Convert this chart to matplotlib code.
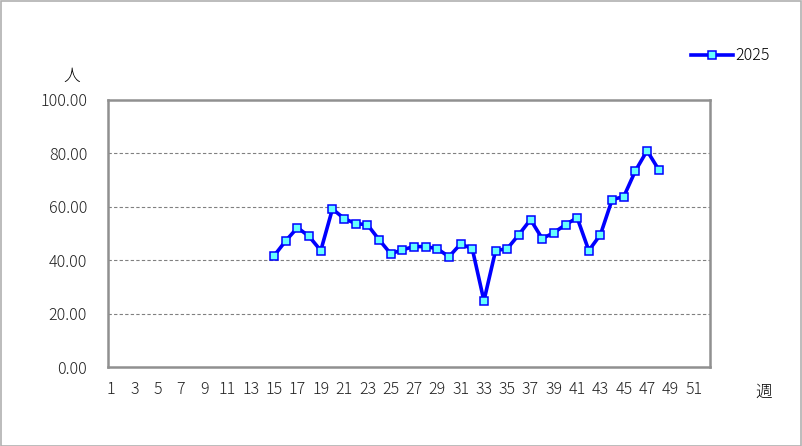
import numpy as np
import matplotlib
matplotlib.use("Agg")
import matplotlib.pyplot as plt
from matplotlib.patches import Rectangle

plt.rcParams['font.family'] = ['Noto Sans CJK JP', 'DejaVu Sans']
plt.rcParams['font.weight'] = 'light'

# Weekly values (2025)
weeks = list(range(15, 49))
values_2025 = [41.7, 47.3, 52.2, 48.9, 43.6, 59.2, 55.6, 53.7, 53.3, 47.7,
               42.4, 43.9, 45.1, 45.1, 44.3, 41.3, 46.1, 44.3, 24.8, 43.6,
               44.3, 49.6, 55.2, 48.1, 50.3, 53.3, 55.9, 43.6, 49.6, 62.7,
               63.8, 73.5, 81.0, 73.9]
x_ticks = list(range(1, 52, 2))
y_ticks = [0, 20, 40, 60, 80, 100]
series_name = "2025"

fig = plt.figure(figsize=(8.02, 4.46), dpi=100)
ax = fig.add_axes([108 / 802, 79 / 446, 602 / 802, 267 / 446])

# outer frame of the figure
fig.patches.append(Rectangle((0.5 / 802, 0.5 / 446), 800.5 / 802, 444.5 / 446,
                             transform=fig.transFigure, fill=False,
                             edgecolor='#b0b0b0', lw=1.2))

ax.plot(weeks, values_2025, color='#0000ff', lw=2.6, marker='s', markersize=6,
        markerfacecolor='#66ffff', markeredgecolor='#0000ff', markeredgewidth=1.1,
        label=series_name, zorder=3)

ax.set_xlim(0.74, 52.4)
ax.set_ylim(0, 100)
ax.set_xticks(x_ticks)
ax.set_yticks(y_ticks)
ax.set_yticklabels(["%.2f" % v for v in y_ticks])
ax.tick_params(axis='both', length=0, labelsize=11.5, colors='#222222')
ax.tick_params(axis='y', pad=15)
ax.tick_params(axis='x', pad=10)

for v in y_ticks[1:-1]:
    ax.axhline(v, color='#808080', lw=0.8, ls=(0, (3, 2)), zorder=1)

for s in ax.spines.values():
    s.set_color('#909090')
    s.set_linewidth(1.8)

fig.text(72 / 802, 1 - 76 / 446, "人", fontsize=12, ha='center', va='center')
fig.text(764 / 802, 1 - 392 / 446, "週", fontsize=12, ha='center', va='center')

leg = ax.legend(loc='center left', bbox_to_anchor=(683 / 802, 1 - 56 / 446),
                bbox_transform=fig.transFigure, frameon=False, fontsize=11.5,
                handlelength=2.6, handletextpad=0.2, borderpad=0)

fig.savefig("out.png", dpi=100)
